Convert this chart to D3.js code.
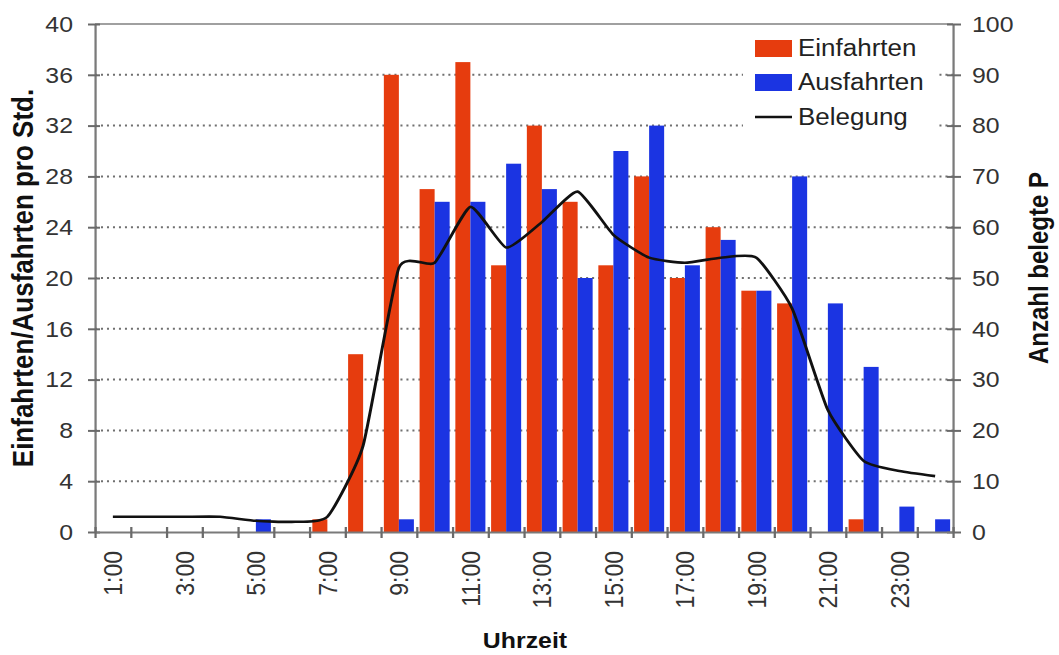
<!DOCTYPE html>
<html>
<head>
<meta charset="utf-8">
<script src="https://cdn.jsdelivr.net/npm/d3@7"></script>
<style>
  body { margin: 0; background: #fff; }
  svg { display: block; font-family: "Liberation Sans", Arial, sans-serif; }
</style>
</head>
<body>
<div id="chart"></div>
<script>
// data
const hours = ["1:00","2:00","3:00","4:00","5:00","6:00","7:00","8:00","9:00","10:00","11:00","12:00",
               "13:00","14:00","15:00","16:00","17:00","18:00","19:00","20:00","21:00","22:00","23:00","24:00"];
const einfahrten = [0,0,0,0,0,0,1,14,36,27,37,21,32,26,21,28,20,24,19,18,0,1,0,0];
const ausfahrten = [0,0,0,0,1,0,0,0,1,26,26,29,27,20,30,32,21,23,19,28,18,13,2,1];
const belegung = [3,3,3,3,2.2,2,3,17,52,53,64,56,61,67,58.5,54,53,54,54,44,24,14,12,11];
const leftTicks = [0,4,8,12,16,20,24,28,32,36,40];
const rightTicks = [0,10,20,30,40,50,60,70,80,90,100];
const seriesNames = ["Einfahrten", "Ausfahrten", "Belegung"];

const W = 1059, H = 655;
const sx = 1.13;               // original picture is a bit stretched sideways
const X = v => v / sx;         // page px -> inner px
const red = "#e63c0e", blue = "#1b34e2";

const plot = { left: X(95), right: X(953), top: 24, bottom: 532 };

const svg = d3.select("#chart").append("svg")
    .attr("width", W)
    .attr("height", H);
const g = svg.append("g").attr("transform", `scale(${sx},1)`);

const x = d3.scaleBand().domain(hours).range([plot.left, plot.right]).padding(0);
const xs = d3.scaleBand().domain(["ein", "aus"]).range([0, x.bandwidth()])
    .paddingInner(0).paddingOuter(0.19);
const xEdge = d3.scaleLinear().domain([0, hours.length]).range([plot.left, plot.right]);
const yL = d3.scaleLinear().domain([0, 40]).range([plot.bottom, plot.top]);
const yR = d3.scaleLinear().domain([0, 100]).range([plot.bottom, plot.top]);

// dotted grid
g.append("g").selectAll("line")
    .data(leftTicks.filter(d => d > 0 && d < 40))
    .enter().append("line")
    .attr("x1", plot.left).attr("x2", plot.right)
    .attr("y1", d => yL(d)).attr("y2", d => yL(d))
    .style("stroke", "#707070")
    .style("stroke-width", 2)
    .style("stroke-dasharray", "1.8 3.5");

// top border
g.append("line")
    .attr("x1", plot.left).attr("x2", plot.right)
    .attr("y1", plot.top).attr("y2", plot.top)
    .style("stroke", "#a0a0a0").style("stroke-width", 2);

// legend background covers the grid
g.append("rect")
    .attr("x", X(743)).attr("y", 29)
    .attr("width", X(937) - X(743)).attr("height", 106)
    .style("fill", "#fff");

// bars
const bars = g.append("g");
bars.selectAll(".ein")
    .data(einfahrten)
    .enter().append("rect")
    .attr("class", "ein")
    .attr("x", (d, i) => x(hours[i]) + xs("ein"))
    .attr("width", xs.bandwidth())
    .attr("y", d => yL(d))
    .attr("height", d => plot.bottom - yL(d))
    .style("fill", red);
bars.selectAll(".aus")
    .data(ausfahrten)
    .enter().append("rect")
    .attr("class", "aus")
    .attr("x", (d, i) => x(hours[i]) + xs("aus"))
    .attr("width", xs.bandwidth())
    .attr("y", d => yL(d))
    .attr("height", d => plot.bottom - yL(d))
    .style("fill", blue);

// occupancy line (lightly smoothed like the original)
const line = d3.line()
    .x((d, i) => x(hours[i]) + x.bandwidth() / 2)
    .y(d => yR(d))
    .curve(d3.curveCardinal.tension(0.5));
g.append("path")
    .datum(belegung)
    .attr("d", line)
    .style("fill", "none")
    .style("stroke", "#111")
    .style("stroke-width", 2.6)
    .style("stroke-linejoin", "round");

// axes
function styleAxis(sel) {
    sel.select(".domain").style("stroke", "#7a7a7a").style("stroke-width", 2);
    sel.selectAll(".tick line").style("stroke", "#6a6a6a").style("stroke-width", 2);
    sel.selectAll(".tick text").style("font-size", "22px").style("fill", "#333")
        .style("font-family", "'Liberation Sans', Arial, sans-serif");
}

const axL = g.append("g")
    .attr("transform", `translate(${plot.left},0)`)
    .call(d3.axisLeft(yL).tickValues(leftTicks).tickSize(X(7)).tickSizeOuter(0));
axL.selectAll(".tick line").attr("x1", X(5));
axL.selectAll(".tick text").attr("x", -X(22)).attr("dy", "0.33em");
styleAxis(axL);

const axR = g.append("g")
    .attr("transform", `translate(${plot.right},0)`)
    .call(d3.axisRight(yR).tickValues(rightTicks).tickSize(X(8)).tickSizeOuter(0));
axR.selectAll(".tick line").attr("x1", -X(6));
axR.selectAll(".tick text").attr("x", X(19)).attr("dy", "0.33em");
styleAxis(axR);

const axB = g.append("g")
    .attr("transform", `translate(0,${plot.bottom})`)
    .call(d3.axisBottom(xEdge).tickValues(d3.range(hours.length + 1)).tickFormat("").tickSize(6).tickSizeOuter(0));
axB.selectAll(".tick line").attr("y1", -5);
styleAxis(axB);

// rotated hour labels, every second hour
g.append("g").selectAll("text")
    .data(hours.filter((h, i) => i % 2 === 0))
    .enter().append("text")
    .attr("transform", d => `translate(${x(d) + x.bandwidth() / 2},551) rotate(-90)`)
    .attr("text-anchor", "end")
    .attr("dy", "0.36em")
    .style("font-size", "23px")
    .style("fill", "#333")
    .text(d => d);

// axis titles
g.append("text")
    .attr("transform", `translate(${X(22)},278) rotate(-90)`)
    .attr("text-anchor", "middle")
    .attr("dy", "0.36em")
    .style("font-size", "26px")
    .style("font-weight", "bold")
    .style("fill", "#111")
    .text("Einfahrten/Ausfahrten pro Std.");

g.append("text")
    .attr("transform", `translate(${X(1038)},268) rotate(-90)`)
    .attr("text-anchor", "middle")
    .attr("dy", "0.36em")
    .style("font-size", "24px")
    .style("font-weight", "bold")
    .style("fill", "#111")
    .text("Anzahl belegte P");

g.append("text")
    .attr("x", X(525)).attr("y", 648)
    .attr("text-anchor", "middle")
    .style("font-size", "22px")
    .style("font-weight", "bold")
    .style("fill", "#111")
    .text("Uhrzeit");

// legend
const legY = [48, 82, 117];
const leg = g.append("g");
leg.append("rect").attr("x", X(755)).attr("y", 40).attr("width", X(792) - X(755)).attr("height", 17).style("fill", red);
leg.append("rect").attr("x", X(755)).attr("y", 74).attr("width", X(792) - X(755)).attr("height", 17).style("fill", blue);
leg.append("line").attr("x1", X(755)).attr("x2", X(792)).attr("y1", legY[2]).attr("y2", legY[2])
    .style("stroke", "#111").style("stroke-width", 2.6);
leg.selectAll("text")
    .data(seriesNames)
    .enter().append("text")
    .attr("x", X(798))
    .attr("y", (d, i) => legY[i])
    .attr("dy", "0.36em")
    .style("font-size", "23px")
    .style("fill", "#222")
    .text(d => d);
</script>
</body>
</html>
